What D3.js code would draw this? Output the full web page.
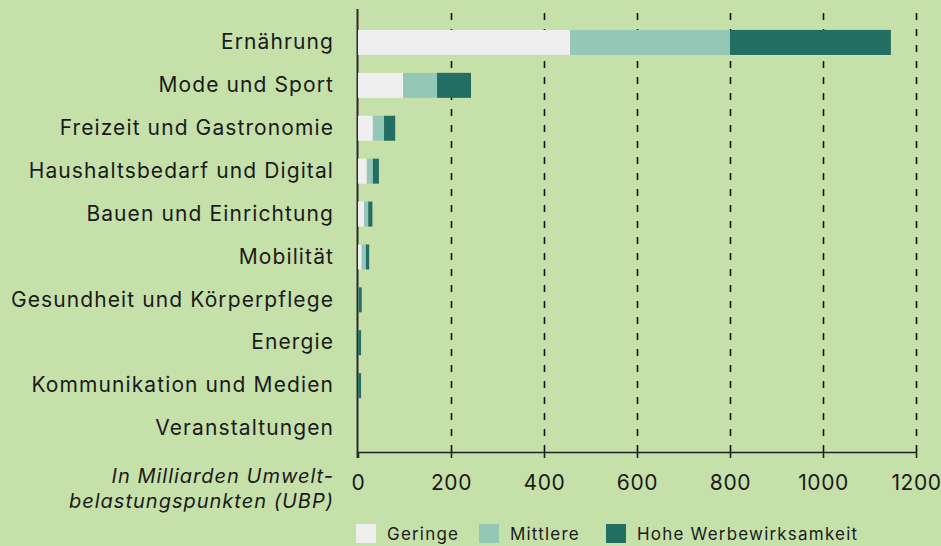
<!DOCTYPE html>
<html>
<head>
<meta charset="utf-8">
<script src="https://cdn.jsdelivr.net/npm/d3@7"></script>
<style>
  html, body { margin: 0; padding: 0; background: #c6e0aa; }
  svg { display: block; font-family: Inter, "Open Sans", sans-serif; }
</style>
</head>
<body>
<div id="chart"></div>
<script>
const categories = ['Ernährung', 'Mode und Sport', 'Freizeit und Gastronomie', 'Haushaltsbedarf und Digital',
    'Bauen und Einrichtung', 'Mobilität', 'Gesundheit und Körperpflege', 'Energie',
    'Kommunikation und Medien', 'Veranstaltungen'];
const geringe = [456, 97, 32, 19, 13, 8, 0.5, 0.3, 0.3, 0];
const mittlere = [344, 73, 24, 13, 9, 9, 0.5, 0.3, 0.3, 0];
const hohe = [346, 73, 24, 13, 9, 7, 7, 6, 6, 0];
const seriesNames = ['Geringe', 'Mittlere', 'Hohe Werbewirksamkeit'];
const seriesColors = ['#efefef', '#95c7b6', '#226e62'];
const xTicks = [0, 200, 400, 600, 800, 1000, 1200];

const width = 941, height = 546;
const svg = d3.select('#chart').append('svg')
    .attr('width', width)
    .attr('height', height);

const x = d3.scaleLinear().domain([0, 1200]).range([358, 916]);
const y = d3.scaleBand().domain(categories).range([8.5, 462.5]).paddingInner(0.417).paddingOuter(0.5);
const axisY = 452, topY = 9;

// dashed grid
svg.append('g')
    .attr('transform', `translate(0,${axisY})`)
    .call(d3.axisBottom(x).tickValues(xTicks.slice(1)).tickSize(-(axisY - topY)).tickFormat(''))
    .call(g => g.select('.domain').remove())
    .call(g => g.selectAll('line').attr('stroke', '#111').attr('stroke-width', 1.6).attr('stroke-dasharray', '7,9'));

// bottom axis
const xAxis = svg.append('g')
    .attr('transform', `translate(0,${axisY})`)
    .call(d3.axisBottom(x).tickValues(xTicks).tickFormat(d3.format('d'))
        .tickSize(6).tickPadding(17).tickSizeOuter(0));
xAxis.select('.domain').attr('stroke', '#222').attr('stroke-width', 1.6);
xAxis.selectAll('line').attr('stroke', '#222').attr('stroke-width', 1.6);
xAxis.selectAll('text').attr('font-size', 21).attr('fill', '#1a1a1a')
    .attr('font-family', 'Inter, sans-serif').style('letter-spacing', '0.6px');

// zero line
svg.append('line')
    .attr('x1', x(0) - 0.5).attr('x2', x(0) - 0.5)
    .attr('y1', topY).attr('y2', axisY + 6)
    .attr('stroke', '#2a2a2a').attr('stroke-width', 2);

// stacked bars
const rows = categories.map((c, i) => ({ cat: c, Geringe: geringe[i], Mittlere: mittlere[i], 'Hohe Werbewirksamkeit': hohe[i] }));
const stack = d3.stack().keys(seriesNames)(rows);
svg.append('g').selectAll('g')
    .data(stack)
    .join('g')
    .attr('fill', (d, i) => seriesColors[i])
    .selectAll('rect')
    .data(d => d)
    .join('rect')
    .attr('x', d => x(d[0]))
    .attr('y', d => y(d.data.cat))
    .attr('width', d => x(d[1]) - x(d[0]))
    .attr('height', y.bandwidth());

// category labels
const yAxis = svg.append('g')
    .attr('transform', `translate(${x(0)},0)`)
    .call(d3.axisLeft(y).tickSize(0).tickPadding(24));
yAxis.select('.domain').remove();
yAxis.selectAll('text').attr('font-size', 21).attr('fill', '#1a1a1a')
    .attr('font-family', 'Inter, sans-serif').style('letter-spacing', '1.1px');

// unit note
const note = svg.append('text')
    .attr('text-anchor', 'end')
    .attr('font-size', 20)
    .attr('font-style', 'italic')
    .attr('fill', '#1a1a1a')
    .style('letter-spacing', '1px');
note.append('tspan').attr('x', 334).attr('y', 483).text('In Milliarden Umwelt-');
note.append('tspan').attr('x', 334).attr('y', 508).text('belastungspunkten (UBP)');

// legend
const legendX = [356, 479, 606];
const legend = svg.append('g').selectAll('g')
    .data(seriesNames)
    .join('g')
    .attr('transform', (d, i) => `translate(${legendX[i]},524)`);
legend.append('rect')
    .attr('width', 20).attr('height', 19)
    .attr('fill', (d, i) => seriesColors[i]);
legend.append('text')
    .attr('x', 31).attr('y', 16)
    .attr('font-size', 17)
    .attr('fill', '#1a1a1a')
    .style('letter-spacing', '1.2px')
    .text(d => d);
</script>
</body>
</html>
